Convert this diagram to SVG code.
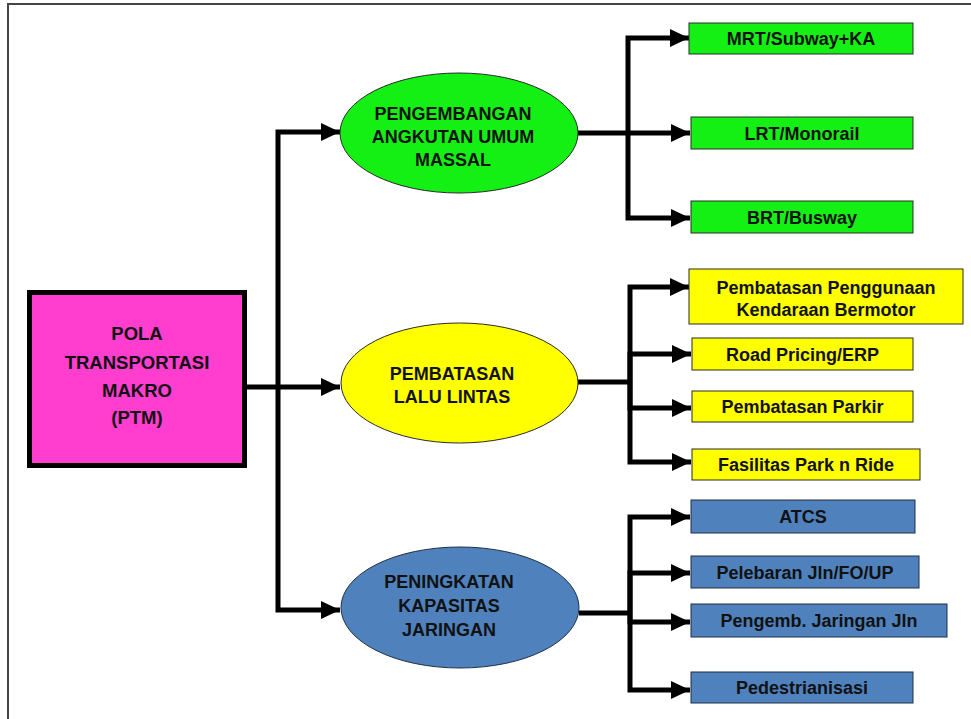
<svg xmlns="http://www.w3.org/2000/svg" width="971" height="719" viewBox="0 0 971 719">
<style>
text{font-family:"Liberation Sans",Arial,sans-serif;font-weight:bold;font-size:18px;fill:#111;text-anchor:middle}
.big{font-size:18.5px}
.conn{fill:none;stroke:#000;stroke-width:5;stroke-linejoin:miter}
.g{fill:#14F014;stroke:#2a2a2a;stroke-width:1}
.y{fill:#FFFF00;stroke:#2a2a2a;stroke-width:1}
.b{fill:#4F81BD;stroke:#1f2f44;stroke-width:1}
</style>
<defs>
<marker id="ah" markerUnits="userSpaceOnUse" markerWidth="19" markerHeight="18" refX="19" refY="9" orient="auto">
<path d="M0,0 L19,9 L0,18 Z" fill="#000"/>
</marker>
</defs>
<rect width="971" height="719" fill="#fff"/>
<path d="M8,719 V4 H971" fill="none" stroke="#444" stroke-width="2"/>
<g id="connectors">
<path class="conn" d="M247,387 H340" marker-end="url(#ah)"/>
<path class="conn" d="M278,387 V132 H340" marker-end="url(#ah)"/>
<path class="conn" d="M278,387 V610 H340" marker-end="url(#ah)"/>
<path class="conn" d="M578,133 H690" marker-end="url(#ah)"/>
<path class="conn" d="M628,133 V38 H689" marker-end="url(#ah)"/>
<path class="conn" d="M628,133 V218 H690" marker-end="url(#ah)"/>
<path class="conn" d="M578,382 H630"/>
<path class="conn" d="M630,382 V287 H689" marker-end="url(#ah)"/>
<path class="conn" d="M630,382 V354 H691" marker-end="url(#ah)"/>
<path class="conn" d="M630,382 V408 H691" marker-end="url(#ah)"/>
<path class="conn" d="M630,382 V462 H691" marker-end="url(#ah)"/>
<path class="conn" d="M579,613 H630"/>
<path class="conn" d="M630,613 V517 H690" marker-end="url(#ah)"/>
<path class="conn" d="M630,613 V573 H690" marker-end="url(#ah)"/>
<path class="conn" d="M630,613 V622 H690" marker-end="url(#ah)"/>
<path class="conn" d="M630,613 V690 H690" marker-end="url(#ah)"/>
</g>
<g id="ptm">
<rect x="29.5" y="292.5" width="215" height="173" fill="#FF3DCF" stroke="#000" stroke-width="5"/>
<text class="big" x="137" y="339.5">POLA</text>
<text class="big" x="137" y="368.5">TRANSPORTASI</text>
<text class="big" x="137" y="396.5">MAKRO</text>
<text class="big" x="137" y="423.5">(PTM)</text>
</g>
<g id="angkutan">
<ellipse class="g" cx="459" cy="133" rx="119" ry="60"/>
<text x="453" y="119.5">PENGEMBANGAN</text>
<text x="453" y="142.5">ANGKUTAN UMUM</text>
<text x="453" y="165.5">MASSAL</text>
</g>
<g id="pembatasan">
<ellipse class="y" cx="459.5" cy="383" rx="118.5" ry="60"/>
<text x="452" y="379.5">PEMBATASAN</text>
<text x="452" y="402.5">LALU LINTAS</text>
</g>
<g id="peningkatan">
<ellipse class="b" cx="460" cy="607.5" rx="119" ry="60.5"/>
<text x="449" y="587.5">PENINGKATAN</text>
<text x="449" y="611.5">KAPASITAS</text>
<text x="449" y="635.5">JARINGAN</text>
</g>
<g id="mrt"><rect class="g" x="689" y="23" width="224" height="31"/><text x="801" y="45">MRT/Subway+KA</text></g>
<g id="lrt"><rect class="g" x="691" y="117" width="222" height="32"/><text x="802" y="139.5">LRT/Monorail</text></g>
<g id="brt"><rect class="g" x="691" y="201" width="222" height="32"/><text x="802" y="223.5">BRT/Busway</text></g>
<g id="penggunaan"><rect class="y" x="689" y="269" width="274" height="55"/><text x="826" y="293.5">Pembatasan Penggunaan</text><text x="826" y="315.5">Kendaraan Bermotor</text></g>
<g id="road"><rect class="y" x="692" y="338" width="221" height="32"/><text x="802.5" y="360.5">Road Pricing/ERP</text></g>
<g id="parkir"><rect class="y" x="692" y="391" width="221" height="31"/><text x="802.5" y="413">Pembatasan Parkir</text></g>
<g id="parkride"><rect class="y" x="692" y="449" width="228" height="31"/><text x="806" y="471">Fasilitas Park n Ride</text></g>
<g id="atcs"><rect class="b" x="691" y="500" width="224" height="33"/><text x="803" y="523">ATCS</text></g>
<g id="pelebaran"><rect class="b" x="691" y="556" width="228" height="32"/><text x="805" y="578.5">Pelebaran Jln/FO/UP</text></g>
<g id="pengemb"><rect class="b" x="691" y="604" width="256" height="33"/><text x="819" y="627">Pengemb. Jaringan Jln</text></g>
<g id="pedestrian"><rect class="b" x="691" y="672" width="222" height="31"/><text x="802" y="694">Pedestrianisasi</text></g>
</svg>
